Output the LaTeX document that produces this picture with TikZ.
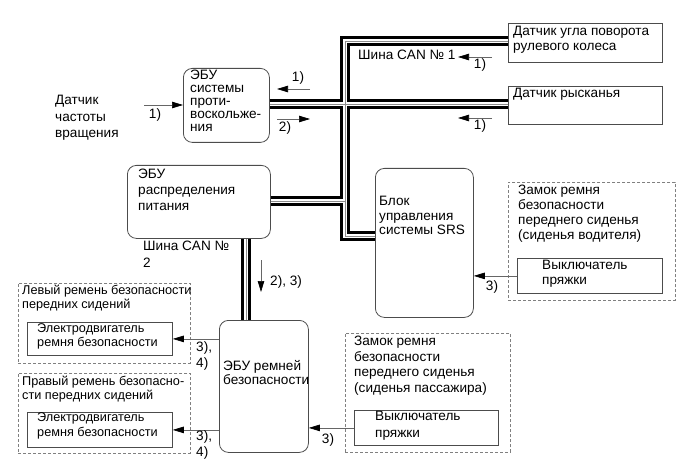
\documentclass[tikz,border=0pt]{standalone}
\usepackage{fontspec}
\setmainfont{Liberation Sans}
\usetikzlibrary{arrows.meta}
\begin{document}
\begin{tikzpicture}[x=1pt,y=-1pt,
  box/.style={draw=black!70, line width=0.8pt, inner sep=0pt, anchor=north west},
  rbox/.style={box, rounded corners=9pt},
  dbox/.style={draw=black!50, dash pattern=on 3pt off 2pt, line width=0.8pt, inner sep=0pt, anchor=north west},
  txt/.style={inner sep=0pt, anchor=north west, align=left, font=\fontsize{13.6}{15}\selectfont},
  lbl/.style={inner sep=0pt, font=\fontsize{13.6}{15}\selectfont},
  sig/.style={draw=black!60, line width=0.7pt, -{Triangle[length=11pt,width=6.5pt,color=black,fill=black]}},
  busk/.style={line width=10pt, black},
  busw/.style={line width=4pt, white},
  busg/.style={line width=0.8pt, black!45},
]
\useasboundingbox (0,0) rectangle (690,465);

% boxes
\node[rbox, minimum width=86, minimum height=74] (abs) at (183,68) {};
\node[rbox, minimum width=143, minimum height=73] (pwr) at (127,165) {};
\node[rbox, minimum width=98, minimum height=149] (srs) at (375,168) {};
\node[rbox, minimum width=89, minimum height=132] (belt) at (219,320) {};
\node[box, minimum width=154, minimum height=39] (steer) at (508,23) {};
\node[box, minimum width=154, minimum height=38] (yaw) at (508,86) {};
\node[dbox, minimum width=167, minimum height=118] (drv) at (508,182) {};
\node[box, minimum width=145, minimum height=35] (drvsw) at (517,258) {};
\node[dbox, minimum width=165, minimum height=119] (pas) at (345,333) {};
\node[box, minimum width=144, minimum height=35] (passw) at (354,410) {};
\node[dbox, minimum width=172, minimum height=80] (lb1) at (18,283) {};
\node[box, minimum width=145, minimum height=33] (lm1) at (27,322) {};
\node[dbox, minimum width=172, minimum height=80] (lb2) at (18,373) {};
\node[box, minimum width=145, minimum height=35] (lm2) at (27,412) {};

% texts
\node[txt, font=\fontsize{13.6}{16.5}\selectfont] (tspd) at (55,95) {Датчик\\частоты\\вращения};
\node[txt, font=\fontsize{13.6}{13}\selectfont] (tabs) at (190,70) {ЭБУ\\системы\\проти-\\воскольже-\\ния};
\node[txt] (tsteer) at (513,26) {Датчик угла поворота\\рулевого колеса};
\node[txt] (tyaw) at (513,88) {Датчик рысканья};
\node[txt] (tcan1) at (358,50) {Шина CAN № 1};
\node[txt, font=\fontsize{13.6}{16}\selectfont] (tpwr) at (138,169) {ЭБУ\\распределения\\питания};
\node[txt, font=\fontsize{13.6}{17}\selectfont] (tcan2) at (143,241) {Шина CAN №\\2};
\node[txt, font=\fontsize{13.6}{14.5}\selectfont] (tsrs) at (379,196) {Блок\\управления\\системы SRS};
\node[txt] (tdrv) at (518,185) {Замок ремня\\безопасности\\переднего сиденья\\(сиденья водителя)};
\node[txt] (tdrvsw) at (542,260) {Выключатель\\пряжки};
\node[txt, font=\fontsize{13.6}{14}\selectfont] (tbelt) at (223,360) {ЭБУ ремней\\безопасности};
\node[txt, font=\fontsize{13.6}{15.5}\selectfont] (tpas) at (354,336) {Замок ремня\\безопасности\\переднего сиденья\\(сиденья пассажира)};
\node[txt, font=\fontsize{13.6}{17}\selectfont] (tpassw) at (375,411) {Выключатель\\пряжки};
\node[txt, font=\fontsize{12.7}{14}\selectfont] (tlb1) at (22,285) {Левый ремень безопасности\\передних сидений};
\node[txt, font=\fontsize{12.7}{14}\selectfont] (tlm1) at (37,323) {Электродвигатель\\ремня безопасности};
\node[txt, font=\fontsize{12.7}{14}\selectfont] (tlb2) at (22,376) {Правый ремень безопасно-\\сти передних сидений};
\node[txt, font=\fontsize{12.7}{15}\selectfont] (tlm2) at (37,412) {Электродвигатель\\ремня безопасности};

% bus coordinates
\coordinate (j1) at (345,41);
\coordinate (j2) at (345,104);
\coordinate (j3) at (345,201);
\coordinate (j4) at (345,236);
\coordinate (b2) at (246,280);

\foreach \s in {busk,busw,busg}{
  \draw[\s] (j1 -| steer.west) -- (j1) -- (j4) -- (j4 -| srs.west);
  \draw[\s] (j2 -| abs.east) -- (j2 -| yaw.west);
  \draw[\s] (j3 -| pwr.east) -- (j3);
  \draw[\s] (b2 |- pwr.south) -- (b2 |- belt.north);
}

% signal arrows
\coordinate (inS) at (144,105);
\draw[sig] (inS) -- (inS -| abs.west);
\coordinate (a1s) at (310,89); \coordinate (a1e) at (277,89);
\draw[sig] (a1s) -- (a1e);
\coordinate (a2s) at (277,119); \coordinate (a2e) at (310,119);
\draw[sig] (a2s) -- (a2e);
\coordinate (s1s) at (492,57); \coordinate (s1e) at (458,57);
\draw[sig] (s1s) -- (s1e);
\coordinate (y1s) at (492,118); \coordinate (y1e) at (458,118);
\draw[sig] (y1s) -- (y1e);
\coordinate (c2s) at (261,260); \coordinate (c2e) at (261,292);
\draw[sig] (c2s) -- (c2e);
\draw[sig] (drvsw.west) -- (drvsw.west -| srs.east);
\draw[sig] (passw.west) -- (passw.west -| belt.east);
\draw[sig] (lm1.east -| belt.west) -- (lm1.east);
\draw[sig] (lm2.east -| belt.west) -- (lm2.east);

% labels
\node[lbl] (l1) at (155,115) {1)};
\node[lbl] (l2) at (298,78) {1)};
\node[lbl] (l3) at (285,128) {2)};
\node[lbl] (l4) at (480,65) {1)};
\node[lbl] (l5) at (480,126) {1)};
\node[lbl, anchor=west] (l6) at (270,282) {2), 3)};
\node[lbl] (l7) at (492,287) {3)};
\node[lbl] (l8) at (328,440) {3)};
\node[txt, font=\fontsize{13.6}{16}\selectfont] (l9) at (196,341) {3),\\4)};
\node[txt, font=\fontsize{13.6}{16}\selectfont] (l10) at (196,430) {3),\\4)};
\end{tikzpicture}
\end{document}
